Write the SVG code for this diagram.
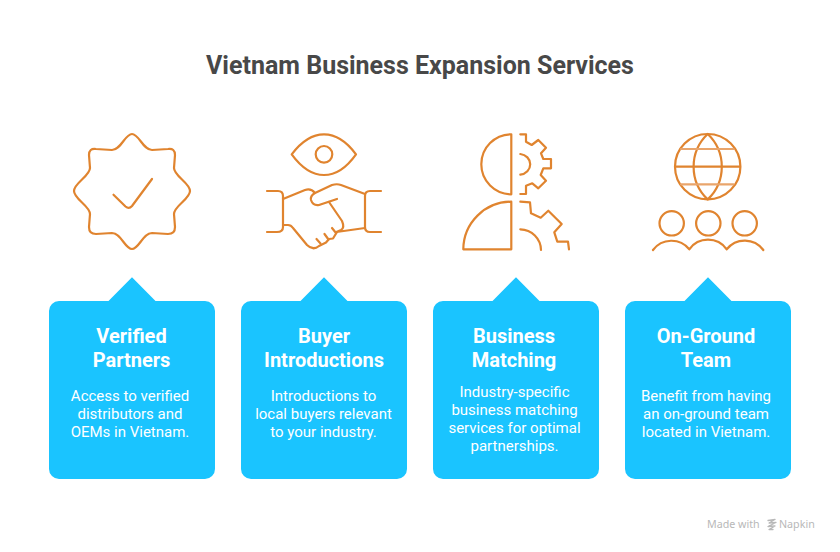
<svg xmlns="http://www.w3.org/2000/svg" width="840" height="552" viewBox="0 0 840 552">
<style>
.i{fill:none;stroke:#E0842F;stroke-width:2.200;stroke-linecap:round;stroke-linejoin:round}
.c{fill:#1AC4FF}
text{font-family:Roboto,"Liberation Sans",sans-serif;text-anchor:middle}
.title{font-size:25px;font-weight:700;fill:#484848}
.h{font-size:20px;font-weight:700;fill:#fff}
.b{font-size:15px;fill:#fff}
.n{font-size:10.700px;fill:#b8b8b8;text-anchor:start;font-family:"Noto Sans",sans-serif}
</style>
<rect width="840" height="552" fill="#fff"/>
<text class="title" x="420" y="74">Vietnam Business Expansion Services</text>
<g id="connectors"/>
<g id="icon-badge">
<path class="i" d="M132 134C139 134 143 150 152 150L168 149Q175 148 175 155L174 168C174 176 190 183 190 191C190 199 174 206 174 214L175 227Q175 234 168 234L152 233C143 233 139 249 132 249C125 249 121 233 112 233L96 234Q89 234 89 227L90 214C90 206 74 199 74 191C74 183 90 176 90 168L89 155Q89 148 96 149L112 150C121 150 125 134 132 134Z"/>
<path class="i" d="M113.500 194.700L125.500 206.500Q129 209.500 132 206L152 179"/>
</g>
<g id="icon-handshake">
<path class="i" d="M291.700 154.300C301 142 312 134.300 324 134.300C336 134.300 347 142 356 154.300C347 167 336 175 324 175C312 175 301 167 291.700 154.300Z"/>
<circle class="i" cx="324" cy="154.300" r="8.300"/>
<path class="i" d="M267 191H278Q283 191 283 196V227Q283 232 277 232H267M381 191H370Q365 191 365 196V227Q365 232 370 232H381"/>
<path class="i" d="M283 199L305 190Q311 188 315 193"/>
<path class="i" d="M365 194L341 185Q337 183.500 332 185L315 193Q310 196 311 200Q313 206 319 205L337 199"/>
<path class="i" d="M329 202L342 221Q345 228 341 230L336.500 232L365 228"/>
<path class="i" d="M283 225H288Q291 225 293 228L307 245Q313 251 319 246L326 242.500L329 239L333 238.500L337 232"/>
<path class="i" d="M316.500 239L320.500 243.500M324.500 234L328.500 239.500M332 228L336 233"/>
</g>
<g id="icon-gears">
<path class="i" d="M511.300 134.300V194.300A30 30 0 0 1 511.300 134.300Z"/>
<path class="i" d="M511.300 201.700V249.300H463.300A48 48 0 0 1 511.300 201.700Z"/>
<path class="i" d="M520.300 154A11 10.400 0 0 1 520.300 174.700"/>
<path class="i" d="M520.300 134.300H526V141.700L531.700 145L538.300 140L546 147.700L541 153.300L543.300 159H551V168.300H543.300L540.700 175L546 180.700L538.300 188.300L532.300 183.300L526 185.700V194H520.300"/>
<path class="i" d="M520.300 201.700L530 202.300L531 213.300L540.700 217.700L548.300 210.700L561.700 224L554.300 232.300L557.300 241.700H568L569 249.300"/>
<path class="i" d="M520.300 229.300A21 21 0 0 1 541 250"/>
</g>
<g id="icon-team">
<circle class="i" cx="707.700" cy="166.700" r="32.700"/>
<path class="i" d="M707.700 134A45 45 0 0 1 707.700 199.400A45 45 0 0 1 707.700 134Z"/>
<path class="i" d="M675.500 166.700H740"/>
<path class="i" d="M681 149H733.500M681 184.300H733.500" style="stroke:#E9A56C"/>
<circle class="i" cx="671.700" cy="223.300" r="12.200"/>
<circle class="i" cx="708.300" cy="223.300" r="12.200"/>
<circle class="i" cx="744.700" cy="223.300" r="12.200"/>
<path class="i" d="M653 250A23 23 0 0 1 689.300 249.300A23 23 0 0 1 726.700 249.300A23 23 0 0 1 763.300 250"/>
</g>
<g id="card-1">
<path class="c" d="M59 301H108.500L132 277.300L155.500 301H205A10 10 0 0 1 215 311V469A10 10 0 0 1 205 479H59A10 10 0 0 1 49 469V311A10 10 0 0 1 59 301Z"/>
<text class="h" x="131.500" y="343">Verified</text><text class="h" x="131.500" y="367">Partners</text>
<text class="b" x="130" y="401">Access to verified</text><text class="b" x="130" y="419">distributors and</text><text class="b" x="130" y="437">OEMs in Vietnam.</text>
</g>
<g id="card-2">
<path class="c" d="M251 301H300.500L324 277.300L347.500 301H397A10 10 0 0 1 407 311V469A10 10 0 0 1 397 479H251A10 10 0 0 1 241 469V311A10 10 0 0 1 251 301Z"/>
<text class="h" x="324" y="343">Buyer</text><text class="h" x="324" y="367">Introductions</text>
<text class="b" x="323.500" y="401">Introductions to</text><text class="b" x="323.500" y="419">local buyers relevant</text><text class="b" x="323.500" y="437">to your industry.</text>
</g>
<g id="card-3">
<path class="c" d="M443 301H492.500L516 277.300L539.500 301H589A10 10 0 0 1 599 311V469A10 10 0 0 1 589 479H443A10 10 0 0 1 433 469V311A10 10 0 0 1 443 301Z"/>
<text class="h" x="514" y="343">Business</text><text class="h" x="514" y="367">Matching</text>
<text class="b" x="514.500" y="397">Industry-specific</text><text class="b" x="514.500" y="415">business matching</text><text class="b" x="514.500" y="433">services for optimal</text><text class="b" x="514.500" y="451">partnerships.</text>
</g>
<g id="card-4">
<path class="c" d="M635 301H684.500L708 277.300L731.500 301H781A10 10 0 0 1 791 311V469A10 10 0 0 1 781 479H635A10 10 0 0 1 625 469V311A10 10 0 0 1 635 301Z"/>
<text class="h" x="706" y="343">On-Ground</text><text class="h" x="706" y="367">Team</text>
<text class="b" x="706" y="401">Benefit from having</text><text class="b" x="706" y="419">an on-ground team</text><text class="b" x="706" y="437">located in Vietnam.</text>
</g>
<g id="watermark">
<text class="n" x="707" y="528">Made with</text>
<path d="M768 520.500L775 519.500L769 523L776 522.500L768 526.500L775 526L769 529.500L773 529.500" fill="none" stroke="#b8b8b8" stroke-width="1.300" stroke-linecap="round" stroke-linejoin="round"/>
<text class="n" x="779" y="528">Napkin</text>
</g>
</svg>
